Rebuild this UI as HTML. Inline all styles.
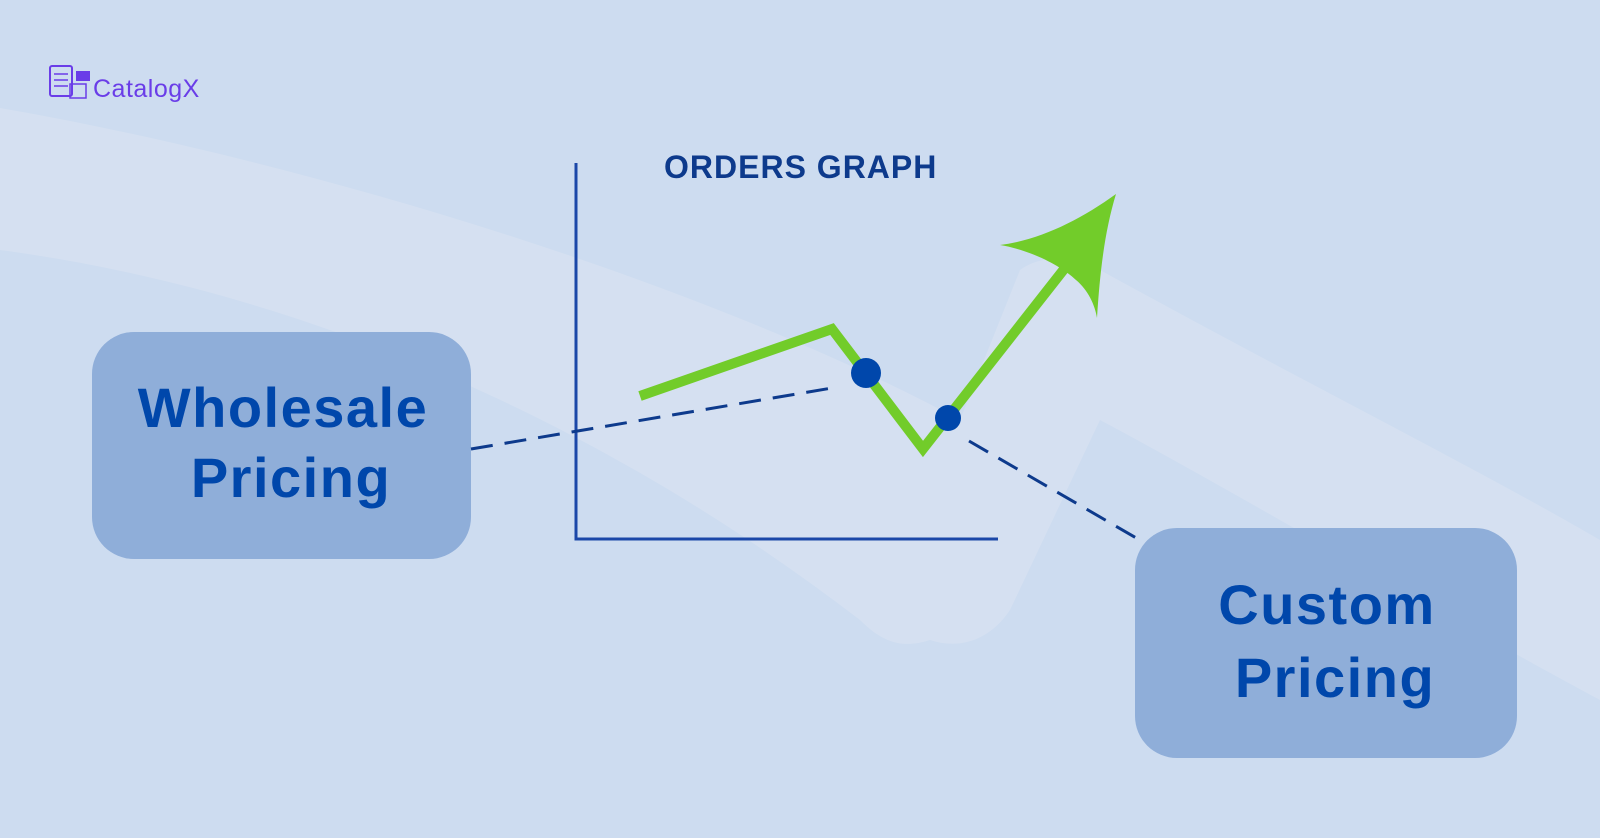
<!DOCTYPE html>
<html><head><meta charset="utf-8"><style>
html,body{margin:0;padding:0;}
body{width:1600px;height:838px;overflow:hidden;background:#cddcf0;font-family:"Liberation Sans",sans-serif;}
</style></head><body>
<svg width="1600" height="838" viewBox="0 0 1600 838" xmlns="http://www.w3.org/2000/svg" style="position:absolute;left:0;top:0">
<rect width="1600" height="838" fill="#cddcf0"/>
<!-- light background band -->
<path d="M0 108 C300 160 700 280 960 420 L1020 270 C1040 255 1070 255 1100 270 C1300 380 1480 470 1600 540 L1600 700 C1450 620 1250 500 1100 420 L1010 610 C990 640 960 650 930 640 C900 650 880 640 860 620 C600 420 300 290 0 250 Z" fill="#d5e0f1"/>
<!-- logo -->
<rect x="50" y="66" width="22" height="30" rx="2" fill="none" stroke="#6a3de8" stroke-width="2"/>
<line x1="54" y1="74" x2="68" y2="74" stroke="#6a3de8" stroke-width="1.5"/>
<line x1="54" y1="80" x2="68" y2="80" stroke="#6a3de8" stroke-width="1.5"/>
<line x1="54" y1="86" x2="68" y2="86" stroke="#6a3de8" stroke-width="1.5"/>
<rect x="76" y="71" width="14" height="10" fill="#6a3de8"/>
<rect x="70" y="84" width="16" height="14" fill="none" stroke="#6a3de8" stroke-width="1.5"/>
<text x="93" y="97" font-size="25" fill="#6a3de8" letter-spacing="0.5">CatalogX</text>
<!-- boxes -->
<rect x="92" y="332" width="379" height="227" rx="42" fill="#8faed9"/>
<rect x="1135" y="528" width="382" height="230" rx="42" fill="#8faed9"/>
<g font-size="56" font-weight="bold" fill="#0047ab" text-anchor="middle" letter-spacing="1.5">
<text x="283" y="427">Wholesale</text>
<text x="291" y="497">Pricing</text>
<text x="1327" y="624">Custom</text>
<text x="1335" y="697">Pricing</text>
</g>
<!-- axes -->
<polyline points="576,163 576,539 998,539" fill="none" stroke="#1b47a8" stroke-width="3"/>
<text x="664" y="178" font-size="32" font-weight="bold" fill="#0d3a8c" letter-spacing="1">ORDERS GRAPH</text>
<!-- dashed -->
<line x1="471" y1="449" x2="832" y2="388" stroke="#0d3a8c" stroke-width="3" stroke-dasharray="22,12"/>
<line x1="969" y1="441" x2="1138" y2="539" stroke="#0d3a8c" stroke-width="3" stroke-dasharray="22,12"/>
<!-- green line -->
<polyline points="640,396 832,329 923,449 1072,259" fill="none" stroke="#72cc2a" stroke-width="10" stroke-linejoin="miter"/>
<path d="M1116 194 C1080 220 1040 240 1000 245 C1030 250 1060 265 1076 280 C1088 290 1095 305 1097 318 C1100 270 1105 230 1116 194 Z" fill="#72cc2a"/>
<circle cx="866" cy="373" r="15" fill="#0047ab"/>
<circle cx="948" cy="418" r="13" fill="#0047ab"/>
</svg>
</body></html>
